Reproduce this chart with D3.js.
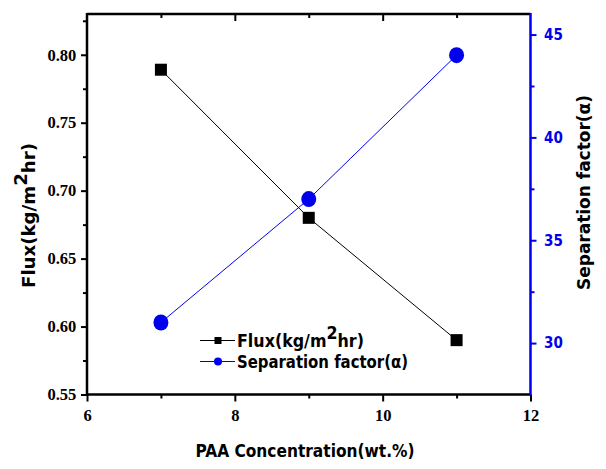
<!DOCTYPE html>
<html>
<head>
<meta charset="utf-8">
<script src="https://cdn.jsdelivr.net/npm/d3@7/dist/d3.min.js"></script>
<style>
  body { margin: 0; background: #fff; }
  svg { display: block; }
</style>
</head>
<body>
<svg width="606" height="469"></svg>
<script>
'use strict';

// Data.
const concentration = [7, 9, 11];
const flux = [0.789, 0.68, 0.59];
const separation = [31, 37, 44];

const xTicks = [6, 8, 10, 12];
const fluxTicks = [0.55, 0.60, 0.65, 0.70, 0.75, 0.80];
const sepTicks = [30, 35, 40, 45];

const blue = '#0000ee';
const serif = '"Liberation Serif", "Times New Roman", serif';
const sans = '"DejaVu Sans Condensed", "DejaVu Sans", Verdana, sans-serif';

const m = { left: 87, right: 530.5, top: 14, bottom: 394.5 };

const svg = d3.select('svg');

const x = d3.scaleLinear().domain([6, 12]).range([m.left, m.right]);
const yL = d3.scaleLinear().domain([0.55, 0.83]).range([m.bottom, m.top]);
const yR = d3.scaleLinear().domain([27.5, 46]).range([m.bottom, m.top]);

// Bottom axis
const bottomAxis = svg.append('g')
  .attr('transform', `translate(0,${m.bottom})`)
  .call(d3.axisBottom(x).tickValues(xTicks).tickSize(7).tickFormat(d3.format('d')));
bottomAxis.append('g')
  .call(d3.axisBottom(x).tickValues([7, 9, 11]).tickSize(4).tickFormat(''));

// Top axis (ticks inward)
const topAxis = svg.append('g')
  .attr('transform', `translate(0,${m.top})`)
  .call(d3.axisBottom(x).tickValues([8, 10]).tickSize(7).tickFormat(''));
topAxis.append('g')
  .call(d3.axisBottom(x).tickValues([7, 9, 11]).tickSize(4).tickFormat(''));

// Left axis
const leftAxis = svg.append('g')
  .attr('transform', `translate(${m.left},0)`)
  .call(d3.axisLeft(yL).tickValues(fluxTicks).tickSize(6).tickFormat(d3.format('.2f')));
leftAxis.append('g')
  .call(d3.axisLeft(yL).tickValues([0.575, 0.625, 0.675, 0.725, 0.775, 0.825]).tickSize(4).tickFormat(''));

// Right axis
const rightAxis = svg.append('g')
  .attr('transform', `translate(${m.right},0)`)
  .call(d3.axisRight(yR).tickValues(sepTicks).tickSize(6).tickFormat(d3.format('d')));
rightAxis.append('g')
  .call(d3.axisRight(yR).tickValues([32.5, 37.5, 42.5]).tickSize(4).tickFormat(''));

// Axis styling
[bottomAxis, topAxis, leftAxis].forEach(g => {
  g.selectAll('path.domain').remove();
  g.selectAll('line').attr('stroke', '#000').attr('stroke-width', 2);
});
rightAxis.selectAll('path.domain').remove();
rightAxis.selectAll('line').attr('stroke', blue).attr('stroke-width', 2);

bottomAxis.selectAll('text')
  .attr('font-family', serif).attr('font-weight', 'bold').attr('font-size', 16.5)
  .attr('fill', '#000').attr('dy', '1.0em');
leftAxis.selectAll('text')
  .attr('font-family', serif).attr('font-weight', 'bold').attr('font-size', 16.5)
  .attr('fill', '#000').attr('dx', '-0.1em');
rightAxis.selectAll('text')
  .attr('font-family', sans).attr('font-weight', 'bold').attr('font-size', 15)
  .attr('fill', blue).attr('dx', '0.3em');

// Frame
svg.append('line').attr('x1', m.left).attr('x2', m.right).attr('y1', m.top).attr('y2', m.top)
  .attr('stroke', '#000').attr('stroke-width', 2.5);
svg.append('line').attr('x1', m.left).attr('x2', m.right).attr('y1', m.bottom).attr('y2', m.bottom)
  .attr('stroke', '#000').attr('stroke-width', 2.5);
svg.append('line').attr('x1', m.left).attr('x2', m.left).attr('y1', m.top - 1).attr('y2', m.bottom + 1)
  .attr('stroke', '#000').attr('stroke-width', 2.5);
svg.append('line').attr('x1', m.right).attr('x2', m.right).attr('y1', m.top - 1).attr('y2', m.bottom + 1)
  .attr('stroke', blue).attr('stroke-width', 2.5);

// Series
const fluxPts = concentration.map((c, i) => [x(c), yL(flux[i])]);
const sepPts = concentration.map((c, i) => [x(c), yR(separation[i])]);

svg.append('path').attr('d', d3.line()(fluxPts))
  .attr('fill', 'none').attr('stroke', '#000').attr('stroke-width', 1);
svg.append('path').attr('d', d3.line()(sepPts))
  .attr('fill', 'none').attr('stroke', blue).attr('stroke-width', 1);

svg.selectAll('rect.flux').data(fluxPts).enter().append('rect')
  .attr('class', 'flux')
  .attr('x', d => d[0] - 6).attr('y', d => d[1] - 6)
  .attr('width', 12).attr('height', 12).attr('fill', '#000');

svg.selectAll('ellipse.sep').data(sepPts).enter().append('ellipse')
  .attr('class', 'sep')
  .attr('cx', d => d[0]).attr('cy', d => d[1])
  .attr('rx', 7.5).attr('ry', 8).attr('fill', blue);

// Legend
const legend = svg.append('g').attr('transform', 'translate(200,340.5)');
legend.append('line').attr('x1', 0).attr('x2', 35).attr('y1', 0).attr('y2', 0)
  .attr('stroke', '#000').attr('stroke-width', 1);
legend.append('rect').attr('x', 14.5).attr('y', -3.5).attr('width', 7).attr('height', 7).attr('fill', '#000');
legend.append('line').attr('x1', 0).attr('x2', 35).attr('y1', 21).attr('y2', 21)
  .attr('stroke', blue).attr('stroke-width', 1);
legend.append('circle').attr('cx', 18).attr('cy', 21).attr('r', 4).attr('fill', blue);

function fluxLabel(sel) {
  sel.append('tspan').text('Flux(kg/m');
  sel.append('tspan').attr('dy', -8).text('2');
  sel.append('tspan').attr('dy', 8).text('hr)');
}

legend.append('text').attr('x', 37).attr('y', 6.5)
  .attr('font-family', sans).attr('font-weight', 'bold').attr('font-size', 17).attr('fill', '#000')
  .attr('textLength', 127).attr('lengthAdjust', 'spacingAndGlyphs')
  .call(fluxLabel);

legend.append('text').attr('x', 37).attr('y', 27.5)
  .attr('font-family', sans).attr('font-weight', 'bold').attr('font-size', 17).attr('fill', '#000')
  .attr('textLength', 171).attr('lengthAdjust', 'spacingAndGlyphs')
  .text('Separation factor(\u03b1)');

// Axis titles
svg.append('text')
  .attr('x', 305).attr('y', 457)
  .attr('text-anchor', 'middle')
  .attr('font-family', sans).attr('font-weight', 'bold').attr('font-size', 17)
  .attr('textLength', 219).attr('lengthAdjust', 'spacingAndGlyphs')
  .text('PAA Concentration(wt.%)');

svg.append('text')
  .attr('transform', 'translate(35,215.5) rotate(-90)')
  .attr('text-anchor', 'middle')
  .attr('font-family', sans).attr('font-weight', 'bold').attr('font-size', 17)
  .attr('textLength', 145).attr('lengthAdjust', 'spacingAndGlyphs')
  .call(fluxLabel);

svg.append('text')
  .attr('transform', 'translate(590,192.5) rotate(-90)')
  .attr('text-anchor', 'middle')
  .attr('font-family', sans).attr('font-weight', 'bold').attr('font-size', 17)
  .attr('textLength', 195).attr('lengthAdjust', 'spacingAndGlyphs')
  .text('Separation factor(\u03b1)');
</script>
</body>
</html>
